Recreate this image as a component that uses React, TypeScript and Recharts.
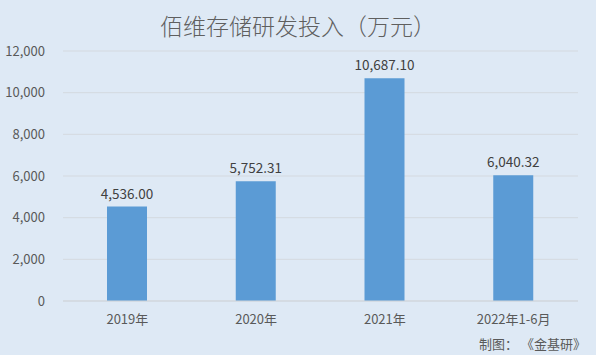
import { BarChart, Bar, XAxis, YAxis, CartesianGrid, LabelList } from "recharts";

const years = ["2019年", "2020年", "2021年", "2022年1-6月"];
const spend = [4536.0, 5752.31, 10687.1, 6040.32];
const yTicks = [0, 2000, 4000, 6000, 8000, 10000, 12000];

const font = '"Noto Sans CJK SC", "Noto Sans", sans-serif';

const fmt = (v: number) =>
  v.toLocaleString("en-US", { minimumFractionDigits: 2, maximumFractionDigits: 2 });

export default function App() {
  const data = years.map((name, i) => ({ name, value: spend[i] }));

  return (
    <div
      style={{
        position: "absolute",
        left: 0,
        top: 0,
        width: 596,
        height: 355,
        background: "#dee9f5",
        fontFamily: font,
      }}
    >
      <div
        style={{
          position: "absolute",
          top: 8,
          left: 0,
          width: 596,
          textAlign: "center",
          fontSize: 23,
          fontWeight: 300,
          color: "#5f5f5f",
        }}
      >
        佰维存储研发投入（万元）
      </div>
      <BarChart
        width={596}
        height={355}
        data={data}
        margin={{ top: 51, right: 18, left: 0, bottom: 24 }}
      >
        <CartesianGrid stroke="#d4d9df" vertical={false} />
        <XAxis
          dataKey="name"
          height={30}
          tick={{ fill: "#595959", fontSize: 13, fontFamily: font }}
          tickLine={false}
          axisLine={{ stroke: "#d0d5db" }}
          tickMargin={8}
        />
        <YAxis
          width={63}
          domain={[0, 12000]}
          ticks={yTicks}
          interval={0}
          tick={{ fill: "#595959", fontSize: 13, fontFamily: font }}
          tickFormatter={(v: number) => v.toLocaleString("en-US")}
          axisLine={false}
          tickLine={false}
          tickMargin={12}
        />
        <Bar dataKey="value" fill="#5b9bd5" barSize={40} isAnimationActive={false}>
          <LabelList
            dataKey="value"
            position="top"
            offset={8}
            formatter={(v: any) => fmt(Number(v))}
            style={{ fill: "#404040", fontSize: 13.5, fontFamily: font }}
          />
        </Bar>
      </BarChart>
      <div
        style={{
          position: "absolute",
          right: 10,
          top: 334,
          fontSize: 13,
          color: "#595959",
          whiteSpace: "pre",
        }}
      >
        制图： 《金基研》
      </div>
    </div>
  );
}
